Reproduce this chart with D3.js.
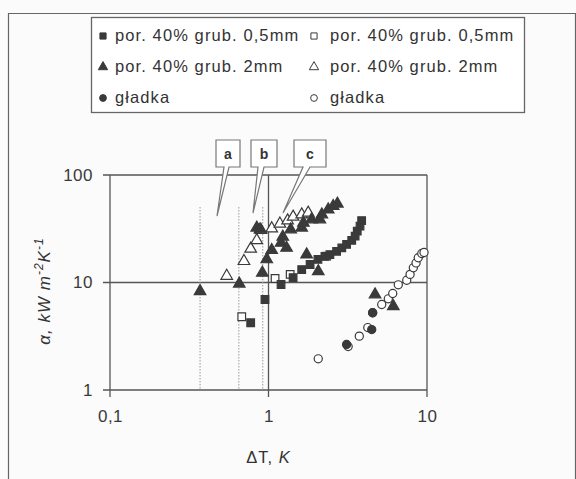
<!DOCTYPE html>
<html>
<head>
<meta charset="utf-8">
<script src="https://cdn.jsdelivr.net/npm/d3@7"></script>
<style>
  body { margin: 0; background: #fbfbfb; }
  svg { display: block; font-family: "Liberation Sans", Arial, sans-serif; }
  .tick text { fill: #3a3a3a; font-size: 17px; letter-spacing: 0.5px; }
</style>
</head>
<body>
<div id="chart"></div>
<script>
// data: [deltaT (K), alpha (kW m-2 K-1)]
var sqFilled = [[0.95, 6.95], [0.772, 4.22], [1.20, 9.58], [1.43, 11.1], [1.62, 13.2], [1.83, 14.7],
    [2.05, 16.4], [2.27, 17.5], [2.44, 18.2], [2.69, 19.5], [2.90, 21.0], [3.11, 22.6],
    [3.35, 24.7], [3.52, 27.0], [3.63, 30.0], [3.78, 33.4], [3.87, 37.7]];
var sqOpen = [[0.678, 4.80], [1.10, 10.9], [1.37, 11.9], [2.33, 17.6]];
var triFilled = [[0.370, 8.30], [0.654, 9.73], [0.914, 12.3], [0.975, 16.4], [1.048, 20.0],
    [0.843, 32.3], [0.884, 31.1], [1.23, 26.6], [1.20, 23.4], [1.30, 21.0], [1.38, 31.1],
    [1.62, 32.3], [1.66, 35.9], [1.87, 38.6], [2.11, 38.6], [2.17, 42.9], [2.38, 47.7],
    [2.56, 51.3], [2.72, 54.0], [1.74, 18.2], [2.06, 12.7], [4.70, 7.73], [6.13, 6.02]];
var triOpen = [[0.545, 11.5], [0.700, 15.8], [0.772, 20.6], [0.843, 24.7], [0.897, 30.7],
    [1.048, 31.8], [1.18, 35.2], [1.32, 37.7], [1.43, 40.8], [1.62, 42.9], [1.78, 44.5]];
var cirFilled = [[3.11, 2.65], [4.48, 3.65], [4.54, 5.23]];
var cirOpen = [[2.06, 1.95], [3.18, 2.54], [3.74, 3.17], [4.23, 3.81], [4.54, 5.23], [5.18, 6.24],
    [5.70, 7.05], [6.08, 7.90], [6.59, 9.52], [7.45, 10.5], [7.82, 11.9], [8.20, 13.7],
    [8.53, 15.2], [8.81, 17.0], [9.27, 18.6], [9.58, 19.0]];

var legendLabels = ["por. 40% grub. 0,5mm", "por. 40% grub. 0,5mm",
    "por. 40% grub. 2mm", "por. 40% grub. 2mm", "gładka", "gładka"];
var xTicks = [0.1, 1, 10];
var xTickLabels = ["0,1", "1", "10"];
var yTicks = [1, 10, 100];
var yTickLabels = ["1", "10", "100"];
var dottedX = [0.37, 0.65, 0.92];
var callouts = ["a", "b", "c"];

var width = 576, height = 479;
var margin = {top: 175, right: 149, bottom: 89, left: 110};

var svg = d3.select("#chart").append("svg")
    .attr("width", width)
    .attr("height", height);

// outer frame
svg.append("path")
    .attr("d", "M8.5,479 V13.5 H575.5 V479")
    .attr("fill", "none")
    .attr("stroke", "#666")
    .attr("stroke-width", 1.2);

var x = d3.scaleLog().domain([0.1, 10]).range([margin.left, width - margin.right]);
var y = d3.scaleLog().domain([1, 100]).range([height - margin.bottom, margin.top]);

var lineCol = "#555";

// grid lines at decades
svg.append("g").selectAll("line").data(yTicks).enter().append("line")
    .attr("x1", x(0.1) - 7).attr("x2", x(10))
    .attr("y1", d => y(d)).attr("y2", d => y(d))
    .attr("stroke", lineCol).attr("stroke-width", 1.3);
svg.append("g").selectAll("line").data(xTicks).enter().append("line")
    .attr("x1", d => x(d)).attr("x2", d => x(d))
    .attr("y1", y(100)).attr("y2", y(1) + 7)
    .attr("stroke", lineCol).attr("stroke-width", 1.3);

// axes (labels only)
var xAxis = svg.append("g")
    .attr("transform", `translate(0, ${y(1)})`)
    .call(d3.axisBottom(x).tickValues(xTicks).tickFormat((d, i) => xTickLabels[i]).tickSize(0).tickPadding(20));
xAxis.select(".domain").remove();
var yAxis = svg.append("g")
    .attr("transform", `translate(${x(0.1)}, 0)`)
    .call(d3.axisLeft(y).tickValues(yTicks).tickFormat((d, i) => yTickLabels[i]).tickSize(0).tickPadding(17));
yAxis.select(".domain").remove();
svg.selectAll(".tick text").attr("font-family", "Liberation Sans, Arial, sans-serif");

// dotted verticals
svg.append("g").selectAll("line").data(dottedX).enter().append("line")
    .attr("x1", d => x(d)).attr("x2", d => x(d))
    .attr("y1", y(100) + 32).attr("y2", y(1))
    .attr("stroke", "#999").attr("stroke-width", 1)
    .attr("stroke-dasharray", "1.5,1.5");

// axis titles
svg.append("text")
    .attr("x", x(1)).attr("y", 463)
    .attr("text-anchor", "middle")
    .attr("font-size", 16.5).attr("fill", "#333").attr("letter-spacing", 1)
    .html('ΔT, <tspan font-style="italic">K</tspan>');

svg.append("g")
    .attr("transform", `translate(50, 291)`)
    .append("text")
    .attr("transform", "rotate(-90)")
    .attr("text-anchor", "middle")
    .attr("font-size", 17).attr("fill", "#333").attr("font-style", "italic")
    .attr("letter-spacing", 1)
    .html('α, kW m<tspan dy="-7" font-size="12">-2</tspan><tspan dy="7">K</tspan><tspan dy="-7" font-size="12">-1</tspan>');

// markers
var dark = "#3a3a3a";
var sym = {
    square: d3.symbol().type(d3.symbolSquare).size(58),
    triangle: d3.symbol().type(d3.symbolTriangle).size(58),
    circle: d3.symbol().type(d3.symbolCircle).size(52)
};
function drawSeries(data, shape, filled) {
    svg.append("g").selectAll("path").data(data).enter().append("path")
        .attr("d", sym[shape])
        .attr("transform", d => `translate(${x(d[0])}, ${y(d[1])})`)
        .attr("fill", filled ? dark : "#fff")
        .attr("stroke", dark)
        .attr("stroke-width", 1.2);
}
drawSeries(sqOpen, "square", false);
drawSeries(triOpen, "triangle", false);
drawSeries(cirOpen, "circle", false);
drawSeries(sqFilled, "square", true);
drawSeries(triFilled, "triangle", true);
drawSeries(cirFilled, "circle", true);

// callouts
var boxes = [{x: 216, w: 24, tip: [217, 216], base: [224, 229]},
             {x: 251, w: 26, tip: [253, 213], base: [258, 264]},
             {x: 294, w: 32, tip: [283, 213], base: [303, 310]}];
var cg = svg.append("g");
boxes.forEach(function(b, i) {
    var top = 140, bot = 167;
    cg.append("path")
        .attr("d", `M${b.x},${top} H${b.x + b.w} V${bot} H${b.base[1]} L${b.tip[0]},${b.tip[1]} L${b.base[0]},${bot} H${b.x} Z`)
        .attr("fill", "#fff").attr("stroke", "#777").attr("stroke-width", 1.2);
    cg.append("text")
        .attr("x", b.x + b.w / 2).attr("y", 159)
        .attr("text-anchor", "middle")
        .attr("font-size", 14).attr("font-weight", "bold").attr("fill", "#333")
        .text(callouts[i]);
});

// legend
var lg = svg.append("g");
lg.append("rect")
    .attr("x", 91.5).attr("y", 17.5).attr("width", 433).attr("height", 95)
    .attr("fill", "#fff").attr("stroke", "#666").attr("stroke-width", 1.3);
var legShapes = ["square", "square", "triangle", "triangle", "circle", "circle"];
var legSym = {
    square: d3.symbol().type(d3.symbolSquare).size(38),
    triangle: d3.symbol().type(d3.symbolTriangle).size(38),
    circle: d3.symbol().type(d3.symbolCircle).size(36)
};
legendLabels.forEach(function(t, i) {
    var col = i % 2, row = Math.floor(i / 2);
    var mx = col === 0 ? 103 : 314, tx = col === 0 ? 115 : 330, ty = 41 + row * 31;
    lg.append("path")
        .attr("d", legSym[legShapes[i]])
        .attr("transform", `translate(${mx}, ${ty - 5})`)
        .attr("fill", col === 0 ? dark : "#fff")
        .attr("stroke", dark).attr("stroke-width", 1);
    lg.append("text")
        .attr("x", tx).attr("y", ty)
        .attr("font-size", 16.5).attr("fill", "#333").attr("letter-spacing", 1.1)
        .text(t);
});
</script>
</body>
</html>
